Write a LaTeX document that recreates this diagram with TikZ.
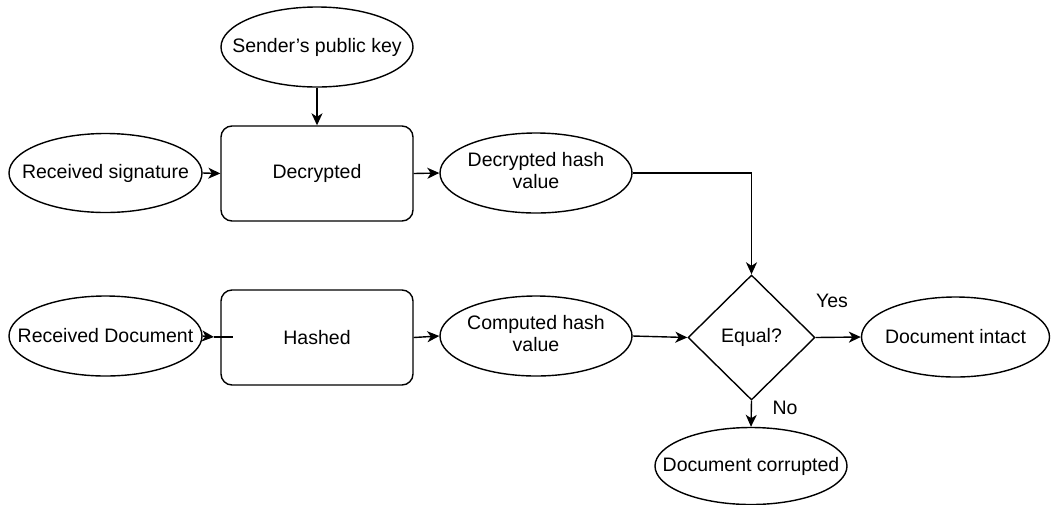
\documentclass[tikz,border=0pt]{standalone}
\usepackage{fontspec}
\setmainfont{Liberation Sans}
\usetikzlibrary{shapes.geometric,arrows.meta}
\newcommand{\zw}[1]{\makebox[0pt]{#1}}
\newcommand{\zwtwo}[2]{\makebox[0pt]{\begin{tabular}{@{}c@{}}#1\\#2\end{tabular}}}
\begin{document}
\begin{tikzpicture}[x=1pt,y=-1pt,
  every node/.style={font=\fontsize{19.5}{22}\selectfont},
  oval/.style={draw,line width=1.4pt,ellipse,minimum width=192pt,minimum height=80pt,inner sep=0pt},
  procbox/.style={draw,line width=1.4pt,rounded corners=11pt,minimum width=192pt,minimum height=95pt,inner sep=0pt},
  decide/.style={draw,line width=1.4pt,diamond,minimum width=127pt,minimum height=125pt,inner sep=0pt},
  arr/.style={line width=1.4pt,-{Stealth[length=12pt,width=11pt,inset=3.5pt]}},
  plain/.style={line width=1.4pt}]
\useasboundingbox (0,0) rectangle (1051,504);
\node[oval] (pk) at (317,47) {\zw{Sender's public key}};
\node[oval,minimum width=193pt,minimum height=79pt] (rs) at (105.5,173) {\zw{Received signature}};
\node[procbox] (dec) at (317,173.5) {Decrypted};
\node[oval] (dhv) at (536,173) {\zwtwo{Decrypted hash}{value}};
\node[oval,minimum width=193pt] (rd) at (105.5,336) {\zw{Received Document}};
\node[procbox] (hs) at (317,337.5) {Hashed};
\node[oval] (chv) at (536,336) {\zwtwo{Computed hash}{value}};
\node[decide] (eq) at (751.5,337.5) {Equal?};
\node[oval,minimum width=188pt] (di) at (955.5,337) {\zw{Document intact}};
\node[oval,minimum height=77pt] (dc) at (751,466) {\zw{Document corrupted}};
\node (yes) at (832,301) {Yes};
\node (no) at (785,408) {No};
\coordinate (rdtip) at (214,337);
\coordinate (rdend) at (233,337);
\draw[arr] (pk.south) -- (dec.north);
\draw[arr] (rs.east) -- (dec.west);
\draw[arr] (dec.east) -- (dhv.west);
\draw[arr] (dhv.east) -| (eq.north);
\draw[arr] (rd.east) -- (rdtip);
\draw[plain] (rdtip) -- (rdend);
\draw[arr] (hs.east) -- (chv.west);
\draw[arr] (chv.east) -- (eq.west);
\draw[arr] (eq.east) -- (di.west);
\draw[arr] (eq.south) -- (dc.north);
\end{tikzpicture}
\end{document}
